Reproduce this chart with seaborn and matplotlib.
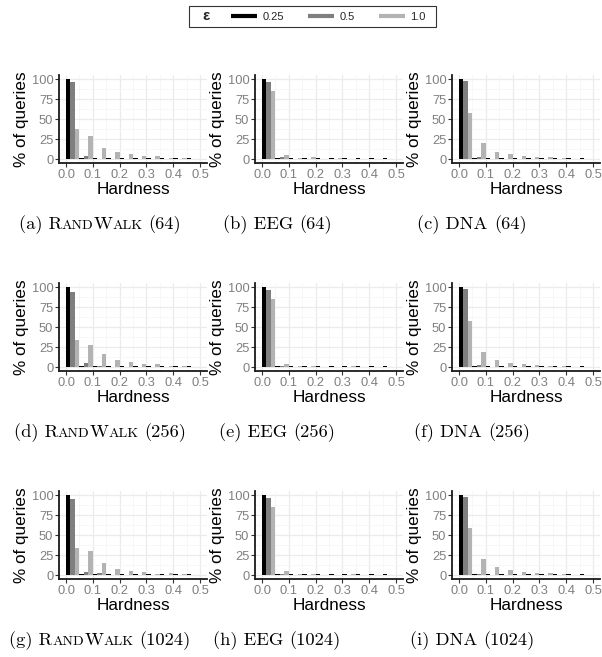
import matplotlib
matplotlib.use("Agg")
import numpy as np
import pandas as pd
import seaborn as sns
import matplotlib.pyplot as plt
from matplotlib.lines import Line2D
from matplotlib.offsetbox import HPacker, TextArea, DrawingArea, AnnotationBbox

#%% data
hardness_bins = [0.025, 0.075, 0.125, 0.175, 0.225, 0.275, 0.325, 0.375, 0.425, 0.475]
epsilons = ["0.25", "0.5", "1.0"]
eps_colors = ["#000000", "#7f7f7f", "#b3b3b3"]

# % of queries per hardness bin, one row per epsilon (0.25, 0.5, 1.0)
randwalk_64 = [[100, 0.8, 0.8, 0.8, 0.8, 0.8, 0.8, 0.8, 0.8, 0.8],
               [96, 3.7, 0.6, 0.4, 0.4, 0.4, 0.4, 0.4, 0.4, 0.4],
               [37.5, 29, 14, 9, 6, 4, 3.5, 1.5, 1, 0.5]]
eeg_64 = [[100, 0.8, 0.8, 0.8, 0.8, 0.8, 0.8, 0.8, 0.8, 0.8],
          [96, 2, 0.4, 0.4, 0.4, 0.4, 0.4, 0.4, 0.4, 0.4],
          [85, 4.5, 1.5, 3, 0.5, 1.5, 0.3, 0.3, 0.3, 0.3]]
dna_64 = [[100, 0.8, 0.8, 0.8, 0.8, 0.8, 0.8, 0.8, 0.8, 0.8],
          [97, 2, 0.4, 0.4, 0.4, 0.4, 0.4, 0.4, 0.4, 0.4],
          [58, 19.5, 8.7, 6, 3.7, 2, 2, 0.7, 0.5, 0.5]]
randwalk_256 = [[100, 0.8, 0.8, 0.8, 0.8, 0.8, 0.8, 0.8, 0.8, 0.8],
                [94, 4.6, 1.7, 0.4, 0.4, 0.4, 0.4, 0.4, 0.4, 0.4],
                [33.6, 27, 16, 8.4, 5.9, 4.2, 3.4, 1.7, 1, 0.5]]
eeg_256 = [[100, 0.8, 0.8, 0.8, 0.8, 0.8, 0.8, 0.8, 0.8, 0.8],
           [96.5, 1.5, 0.4, 0.4, 0.4, 0.4, 0.4, 0.4, 0.4, 0.4],
           [85, 4.2, 1.5, 1.5, 0.5, 0.5, 1.5, 0.3, 0.3, 0.3]]
dna_256 = [[100, 0.8, 0.8, 0.8, 0.8, 0.8, 0.8, 0.8, 0.8, 0.8],
           [97, 2, 0.4, 0.4, 0.4, 0.4, 0.4, 0.4, 0.4, 0.4],
           [58, 19, 8.5, 5.5, 3.5, 2, 1.8, 0.7, 0.5, 0.3]]
randwalk_1024 = [[100, 0.8, 0.8, 0.8, 0.8, 0.8, 0.8, 0.8, 0.8, 0.8],
                 [95, 4.2, 2.5, 0.4, 0.4, 0.4, 0.4, 0.4, 0.4, 0.4],
                 [33.8, 30, 15.4, 7, 5.5, 3.5, 1.7, 3, 0.8, 0.4]]
eeg_1024 = [[100, 0.8, 0.8, 0.8, 0.8, 0.8, 0.8, 0.8, 0.8, 0.8],
            [96, 1.5, 0.4, 0.4, 0.4, 0.4, 0.4, 0.4, 0.4, 0.4],
            [84.6, 5, 1.7, 1.7, 0.5, 0.5, 1.5, 0.3, 0.3, 0.3]]
dna_1024 = [[100, 0.8, 0.8, 0.8, 0.8, 0.8, 0.8, 0.8, 0.8, 0.8],
            [97.5, 1.5, 0.4, 0.4, 0.4, 0.4, 0.4, 0.4, 0.4, 0.4],
            [58.7, 19.6, 10, 6.2, 3.7, 2.5, 2, 0.7, 0.5, 0.3]]

panels = [("a", "RandWalk", 64, randwalk_64), ("b", "EEG", 64, eeg_64), ("c", "DNA", 64, dna_64),
          ("d", "RandWalk", 256, randwalk_256), ("e", "EEG", 256, eeg_256), ("f", "DNA", 256, dna_256),
          ("g", "RandWalk", 1024, randwalk_1024), ("h", "EEG", 1024, eeg_1024), ("i", "DNA", 1024, dna_1024)]

x_ticks = [0.0, 0.1, 0.2, 0.3, 0.4, 0.5]
y_ticks = [0, 25, 50, 75, 100]

#%% style
sns.set_theme(style="white", rc={"axes.spines.right": False, "axes.spines.top": False})
plt.rcParams["font.family"] = ["Liberation Sans", "DejaVu Sans"]

W, H = 602, 657
fig = plt.figure(figsize=(W / 100, H / 100), dpi=100)

# panel geometry in pixels (top-left origin)
col_left = [59.3, 255.3, 452.3]
row_top = [75, 283, 491]
ax_w, ax_h = 147.5, 88
cap_center = [100, 277, 472]
cap_base = [227, 435, 643]

cap_font = "cmr10"
cap_size = 13.3


def caption(tag, name, size):
    big = dict(family=cap_font, size=cap_size, color="black")
    small = dict(family=cap_font, size=cap_size * 0.76, color="black")
    if name == "RandWalk":  # small caps by hand
        parts = [(f"({tag}) R", big), ("AND", small), ("W", big), ("ALK", small)]
    else:
        parts = [(f"({tag}) {name}", big)]
    kids = [TextArea(t, textprops=p) for t, p in parts]
    kids += [DrawingArea(cap_size * 0.33, 0), TextArea(f"({size})", textprops=big)]
    return HPacker(children=kids, align="baseline", pad=0, sep=0)


for i, (tag, name, size, values) in enumerate(panels):
    r, c = divmod(i, 3)
    ax = fig.add_axes([col_left[c] / W, (H - row_top[r] - ax_h) / H, ax_w / W, ax_h / H])
    df = pd.DataFrame({"hardness": np.tile(hardness_bins, len(epsilons)),
                       "eps": np.repeat(epsilons, len(hardness_bins)),
                       "pct": np.concatenate(values)})
    sns.barplot(data=df, x="hardness", y="pct", hue="eps", hue_order=epsilons,
                palette=eps_colors, native_scale=True, width=1, gap=0,
                saturation=1, linewidth=0, legend=False, ax=ax)

    ax.set_xlim(-0.025, 0.525)
    ax.set_ylim(-5, 105)
    ax.set_xticks(x_ticks, [f"{t:.1f}" for t in x_ticks])
    ax.set_yticks(y_ticks, [str(t) for t in y_ticks])
    ax.set_xticks(np.array(x_ticks[:-1]) + 0.05, minor=True)
    ax.set_yticks(np.array(y_ticks[:-1]) + 12.5, minor=True)
    ax.set_axisbelow(True)
    ax.grid(which="major", color="#ebebeb", lw=0.9)
    ax.grid(which="minor", color="#f6f6f6", lw=0.6)
    for s in ["left", "bottom"]:
        ax.spines[s].set_color("#1a1a1a")
        ax.spines[s].set_linewidth(1.3)
    ax.tick_params(which="major", labelsize=9.3, labelcolor="#808080", color="#333333",
                   length=2.75, width=0.8, pad=1.5, left=True, bottom=True)
    ax.tick_params(which="minor", length=0)
    ax.set_xlabel("Hardness", fontsize=12.3, color="black", labelpad=1)
    ax.set_ylabel("% of queries", fontsize=12.3, color="black", labelpad=2)

    ab = AnnotationBbox(caption(tag, name, size), (cap_center[c], H - cap_base[r] - 6.5),
                        xycoords="figure pixels", box_alignment=(0.5, 0),
                        frameon=False, pad=0)
    fig.add_artist(ab)

#%% legend with the title on the left, ggplot style
handles = [Line2D([], [], color=col, lw=3, solid_capstyle="butt") for col in eps_colors]
leg = fig.legend(handles, epsilons, title="ε", ncol=3, loc="center",
                 bbox_to_anchor=(312.5 / W, 1 - 16.5 / H), frameon=True, fancybox=False,
                 edgecolor="black", fontsize=8, handlelength=2.35, handletextpad=0.45,
                 columnspacing=2.2, borderpad=0.35,
                 title_fontproperties={"size": 11, "weight": "bold"})
leg.get_frame().set_linewidth(0.8)
inner = HPacker(pad=0, sep=15.8, align="center",
                children=[leg._legend_title_box, leg._legend_handle_box])
leg._legend_box = HPacker(pad=leg.borderpad * 8, sep=0, align="center",
                          children=[DrawingArea(6.5, 0), inner, DrawingArea(4.5, 0)])
leg._legend_box.set_figure(fig)
leg._legend_box.set_offset(leg._findoffset)

fig.savefig("out.png", dpi=100)
